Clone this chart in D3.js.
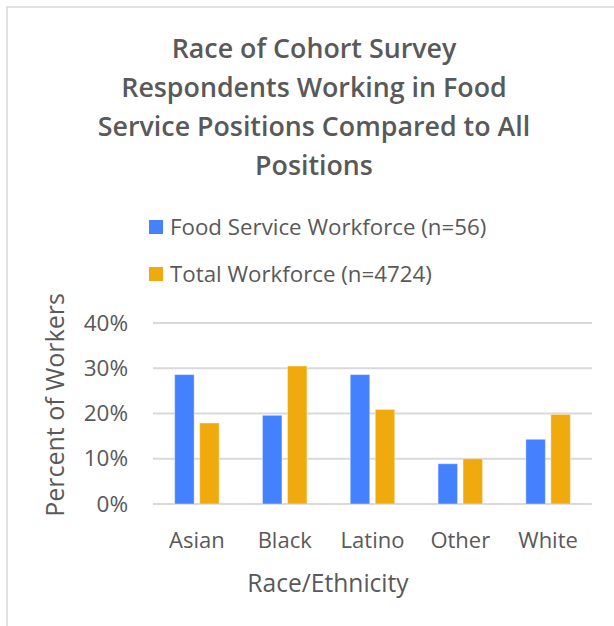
<!DOCTYPE html>
<html>
<head>
<meta charset="utf-8">
<script src="https://cdn.jsdelivr.net/npm/d3@7"></script>
<style>
  body { margin: 0; background: #fff; }
  svg text { font-family: "Open Sans", "Segoe UI", sans-serif; fill: #595959; }
</style>
</head>
<body>
<script>
// data
const categories = ["Asian", "Black", "Latino", "Other", "White"];
const seriesNames = ["Food Service Workforce (n=56)", "Total Workforce (n=4724)"];
const foodService = [28.6, 19.6, 28.6, 8.9, 14.3];
const totalWorkforce = [17.9, 30.5, 20.9, 10.0, 19.8];
const yTicks = [0, 10, 20, 30, 40];
const titleLines = ["Race of Cohort Survey", "Respondents Working in Food",
                    "Service Positions Compared to All", "Positions"];

const colors = ["#4481FF", "#F0AA0E"];
const width = 614, height = 626;

const svg = d3.select("body").append("svg")
    .attr("width", width)
    .attr("height", height);

// chart frame (cut off at right/bottom like the screenshot)
svg.append("rect")
    .attr("x", 7).attr("y", 7)
    .attr("width", 700).attr("height", 700)
    .attr("fill", "none")
    .attr("stroke", "#d9d9d9")
    .attr("stroke-width", 1.5);

// title
svg.append("g").selectAll("text")
    .data(titleLines)
    .join("text")
    .attr("x", 314)
    .attr("y", (d, i) => 58 + i * 39)
    .attr("text-anchor", "middle")
    .attr("font-size", 26.8)
    .attr("font-weight", 600)
    .text(d => d);

// legend
const legend = svg.append("g").selectAll("g")
    .data(seriesNames)
    .join("g")
    .attr("transform", (d, i) => `translate(149, ${220 + i * 47})`);
legend.append("rect")
    .attr("width", 14).attr("height", 14)
    .attr("fill", (d, i) => colors[i]);
legend.append("text")
    .attr("x", 21).attr("y", 15)
    .attr("font-size", 22.3)
    .text(d => d);

// scales
const x0 = d3.scaleBand()
    .domain(categories)
    .range([153, 592]);
const x1 = d3.scaleBand()
    .domain([0, 1])
    .range([0, 44.5])
    .paddingInner(0.22);
const y = d3.scaleLinear()
    .domain([0, 40])
    .range([504, 323]);

// gridlines
svg.append("g").selectAll("line")
    .data(yTicks)
    .join("line")
    .attr("x1", 153).attr("x2", 592)
    .attr("y1", d => y(d)).attr("y2", d => y(d))
    .attr("stroke", "#d9d9d9")
    .attr("stroke-width", 2);

// y axis labels
const yAxis = svg.append("g")
    .attr("transform", "translate(128,0)")
    .call(d3.axisLeft(y).tickValues(yTicks).tickFormat(d => d + "%").tickSize(0).tickPadding(0));
yAxis.select(".domain").remove();
yAxis.attr("font-family", null);
yAxis.selectAll("text")
    .attr("font-size", 22.5)
    .attr("fill", null);

// bars
const rows = categories.map((c, i) => ({ cat: c, vals: [foodService[i], totalWorkforce[i]] }));
const groups = svg.append("g").selectAll("g")
    .data(rows)
    .join("g")
    .attr("transform", d => `translate(${x0(d.cat) + x0.bandwidth() / 2 - 22.25},0)`);
groups.selectAll("rect")
    .data(d => d.vals.map((v, k) => ({ k, v })))
    .join("rect")
    .attr("x", d => x1(d.k))
    .attr("width", x1.bandwidth())
    .attr("y", d => y(d.v))
    .attr("height", d => y(0) - y(d.v))
    .attr("fill", d => colors[d.k])
    .attr("stroke", "#fff")
    .attr("stroke-opacity", 0.4)
    .attr("stroke-width", 1);

// x axis labels
const xAxis = svg.append("g")
    .attr("transform", "translate(0,527)")
    .call(d3.axisBottom(x0).tickSize(0).tickPadding(0));
xAxis.select(".domain").remove();
xAxis.attr("font-family", null);
xAxis.selectAll("text")
    .attr("font-size", 22)
    .attr("fill", null)
    .attr("dy", "0.3em")
    .attr("y", 14);

// axis titles
svg.append("text")
    .attr("x", 328).attr("y", 592)
    .attr("text-anchor", "middle")
    .attr("font-size", 24.6)
    .text("Race/Ethnicity");
svg.append("text")
    .attr("transform", "translate(64,405) rotate(-90)")
    .attr("text-anchor", "middle")
    .attr("font-size", 25)
    .text("Percent of Workers");
</script>
</body>
</html>
